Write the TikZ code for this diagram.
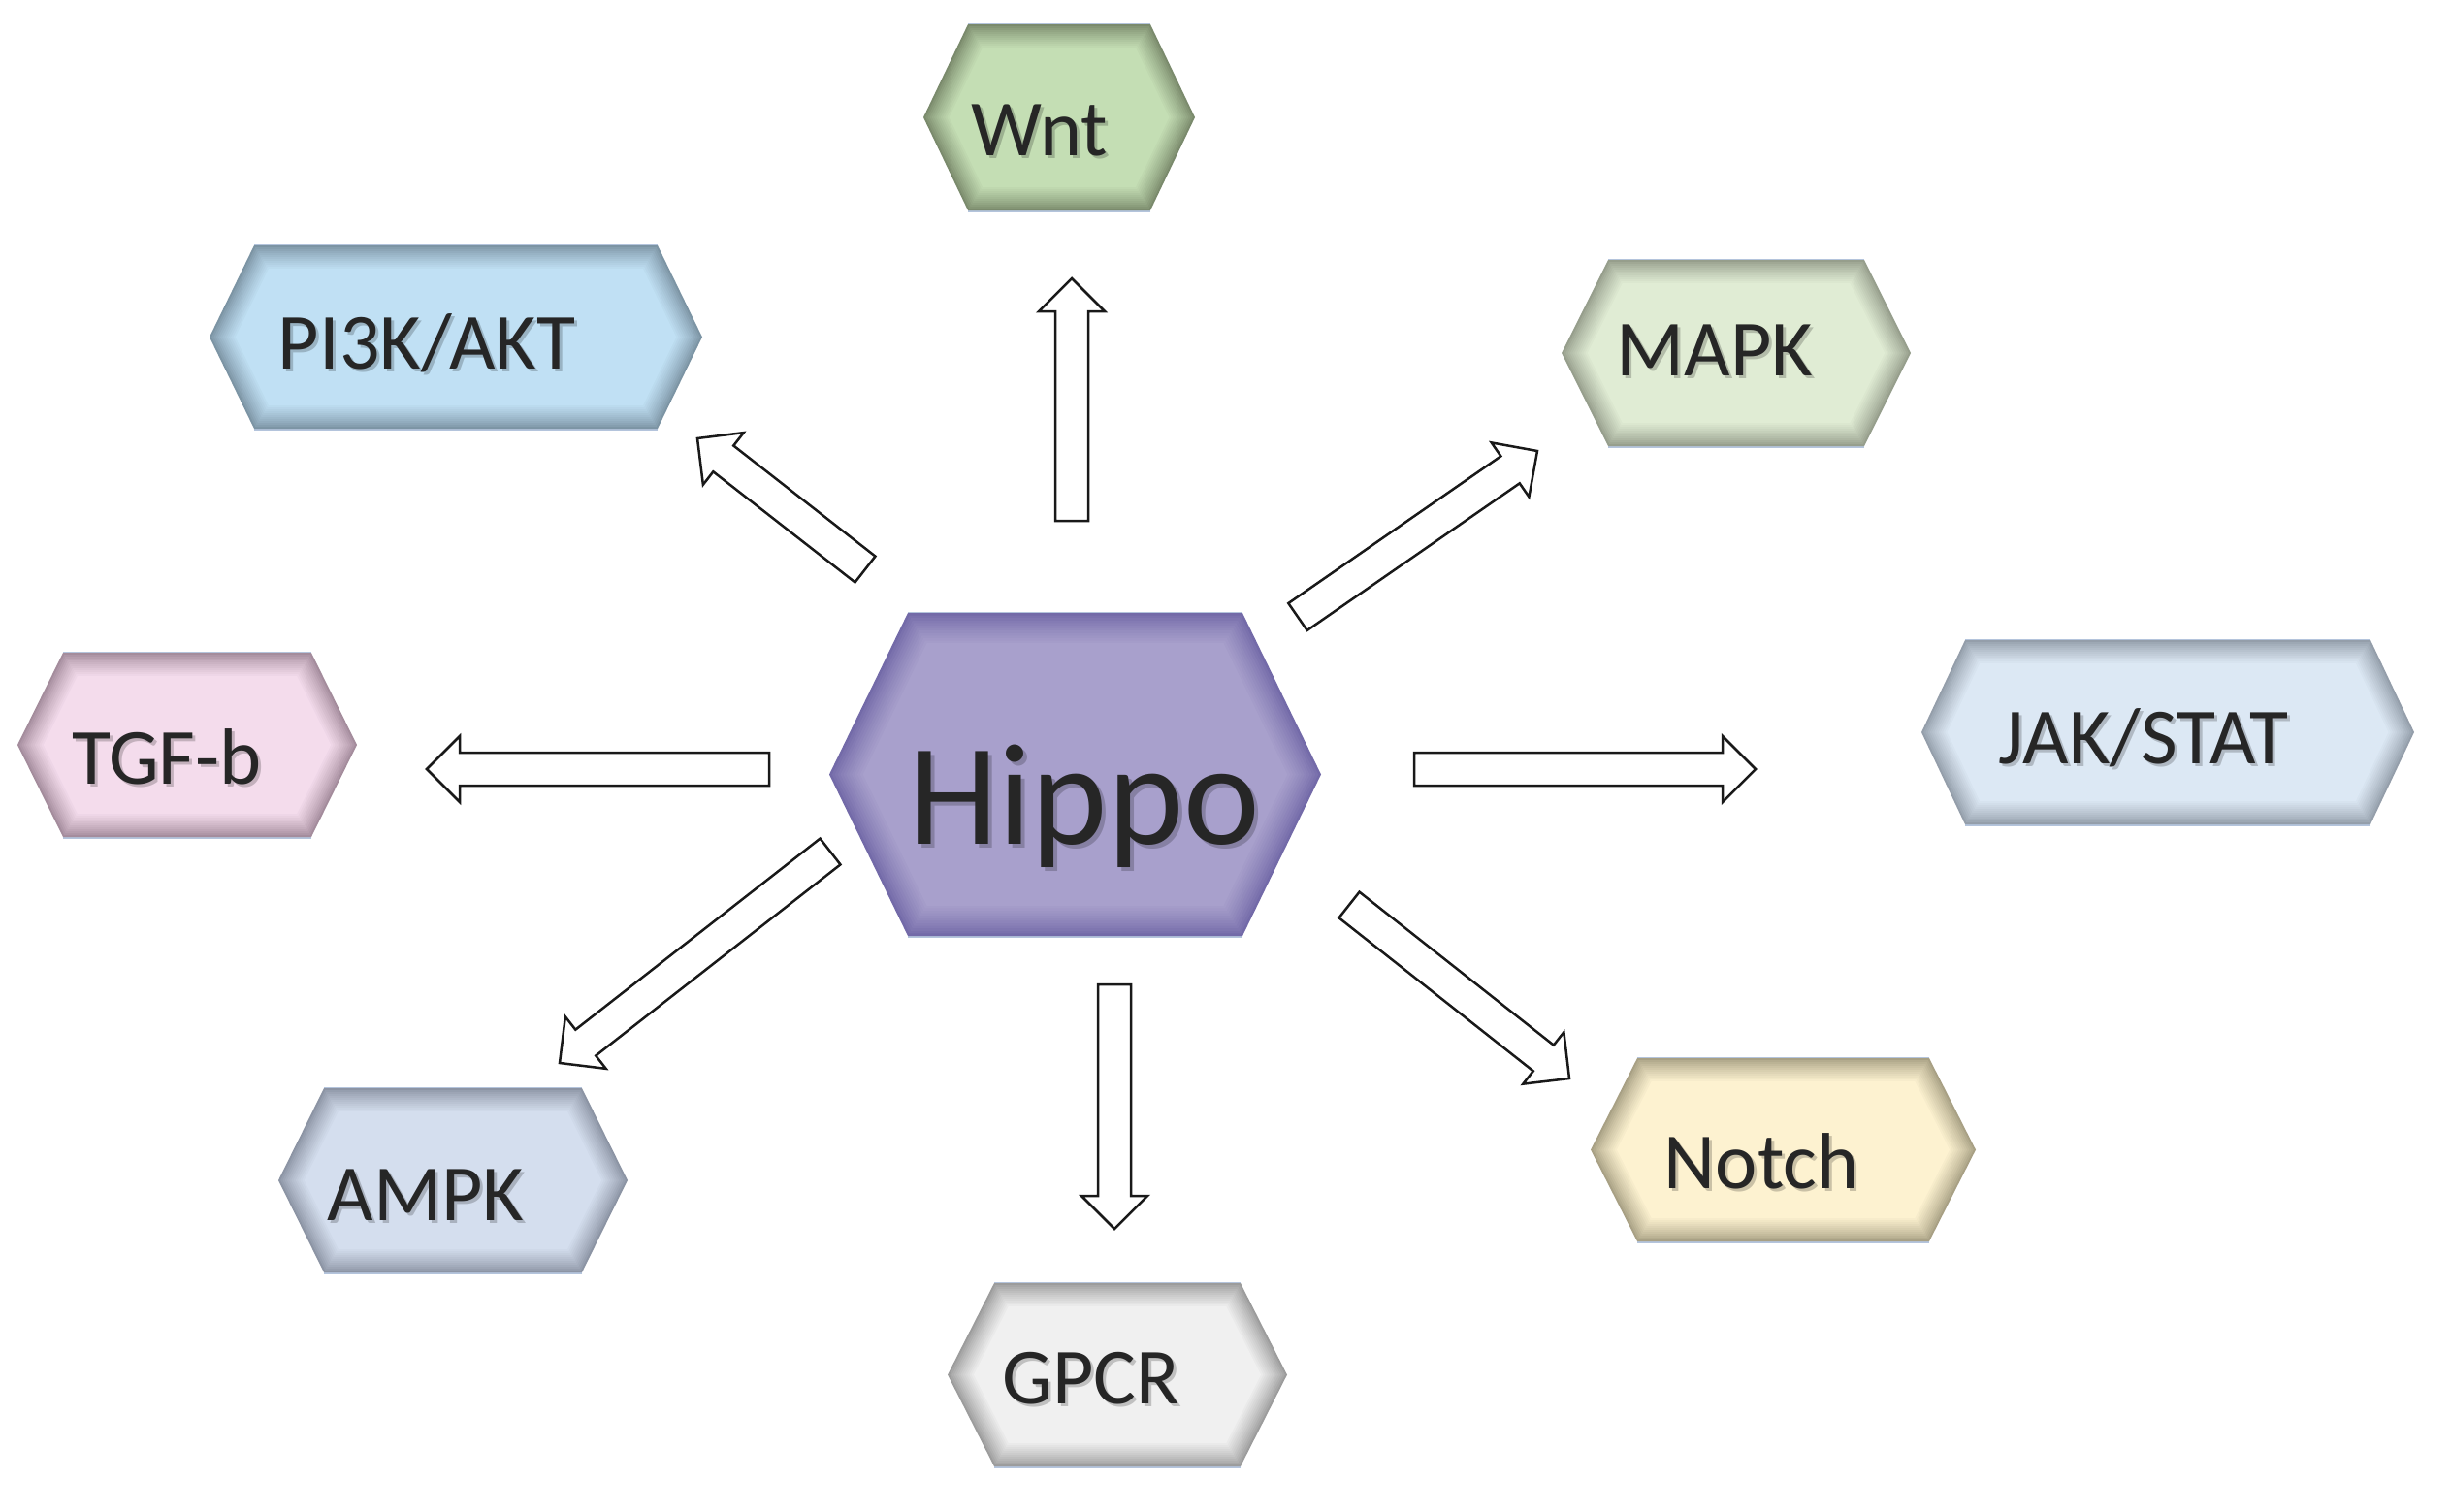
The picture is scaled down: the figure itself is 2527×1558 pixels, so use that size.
\documentclass[tikz,border=0pt]{standalone}
\usepackage{fontspec}
\setmainfont{Carlito}
\usetikzlibrary{calc}
\definecolor{txt}{HTML}{262626}
\definecolor{hipE}{HTML}{736AA8}\definecolor{hipC}{HTML}{A8A0CC}
\definecolor{pikE}{HTML}{7C94A4}\definecolor{pikC}{HTML}{C0E0F4}
\definecolor{tgfE}{HTML}{A48C9C}\definecolor{tgfC}{HTML}{F4DCEC}
\definecolor{jakE}{HTML}{949EAA}\definecolor{jakC}{HTML}{DCE8F4}
\definecolor{wntE}{HTML}{7A8A6C}\definecolor{wntC}{HTML}{C4DEB4}
\definecolor{mapE}{HTML}{969E8C}\definecolor{mapC}{HTML}{E0ECD4}
\definecolor{ampE}{HTML}{8C94A4}\definecolor{ampC}{HTML}{D4DEEE}
\definecolor{gpcE}{HTML}{9C9C9C}\definecolor{gpcC}{HTML}{F0F0F0}
\definecolor{notE}{HTML}{A8A084}\definecolor{notC}{HTML}{FDF2D0}
\definecolor{rim}{HTML}{B4C4DC}
% #1 cx, #2 cy, #3 half width, #4 half height, #5 slant, #6 edge, #7 centre, #8 glow step
\newcommand\hexa[8]{%
  \begin{scope}[shift={(#1,#2)}]
    \pgfmathsetmacro\hm{#5/#4}
    \pgfmathsetmacro\hq{sqrt(1+\hm*\hm)}
    \draw[rim,line width=3pt] (-#3+#5,-#4) -- (#3-#5,-#4) (#3-#5,#4) -- (-#3+#5,#4);
    \foreach \k in {0,...,12}{
      \pgfmathsetmacro\dd{\k*#8}
      \pgfmathsetmacro\Wp{#3-\dd*\hq}
      \pgfmathsetmacro\Hp{#4-\dd}
      \pgfmathsetmacro\Cx{\Wp-\hm*\Hp}
      \pgfmathtruncatemacro\pc{100*(\k/12)^0.8}
      \fill[#7!\pc!#6] (-\Wp,0) -- (-\Cx,-\Hp) -- (\Cx,-\Hp) -- (\Wp,0) -- (\Cx,\Hp) -- (-\Cx,\Hp) -- cycle;
    }
  \end{scope}}
% block arrow from #1 (tail) to #2 (tip)
\newcommand\blockarrow[2]{%
  \draw[barrow]
    ($(#1)!17pt!90:(#2)$) --
    ($($(#2)!34pt!(#1)$)!17pt!-90:(#1)$) --
    ($($(#2)!34pt!(#1)$)!34pt!-90:(#1)$) --
    (#2) --
    ($($(#2)!34pt!(#1)$)!34pt!90:(#1)$) --
    ($($(#2)!34pt!(#1)$)!17pt!90:(#1)$) --
    ($(#1)!17pt!-90:(#2)$) -- cycle;}
\tikzset{
  barrow/.style={draw=black!90,fill=white,line width=2.5pt,line join=miter},
  lbl/.style={inner sep=0pt,anchor=base,text=txt,font=\fontsize{82}{90}\selectfont},
  big/.style={inner sep=0pt,anchor=base,text=txt,font=\fontsize{149}{160}\selectfont},
  shd/.style={text=black,opacity=0.2},
}
\begin{document}
\begin{tikzpicture}[x=1pt,y=-1pt]
\useasboundingbox[fill=white] (0,0) rectangle (2527,1558);
% hexagons
\hexa{1108.5}{798.5}{253.5}{166.5}{81}{hipE}{hipC}{2.6}
\hexa{470}{347.5}{254}{94.5}{46}{pikE}{pikC}{2}
\hexa{193}{768}{175}{95}{47}{tgfE}{tgfC}{2}
\hexa{2235}{755}{254}{95}{45}{jakE}{jakC}{2}
\hexa{1092}{121}{140}{96}{46}{wntE}{wntC}{2}
\hexa{1790}{364}{180}{96}{48}{mapE}{mapC}{2}
\hexa{467}{1217}{180}{95}{47}{ampE}{ampC}{2}
\hexa{1152}{1417.5}{175}{94.5}{48}{gpcE}{gpcC}{2}
\hexa{1838.5}{1185.5}{198.5}{94.5}{48}{notE}{notC}{2}
% labels (with soft shadows)
\node[big,shd] (hippo-s) at (1122,874) {Hippo};
\node[big] (hippo) at (1118,870) {Hippo};
\foreach \nm/\tx/\x/\y in {pik/{PI3K/AKT}/440/380, tgf/{TGF-b}/172/808, jak/{JAK/STAT}/2210/787,
  wnt/{Wnt}/1072/160, mapk/{MAPK}/1768/387, ampk/{AMPK}/439/1258, gpcr/{GPCR}/1125/1447, notch/{Notch}/1816/1225}{
  \node[lbl,shd] (\nm-s) at (\x+3,\y+3) {\tx};
  \node[lbl] (\nm) at (\x,\y) {\tx};
}
% arrows
\coordinate (tWnt) at (1105,537);  \coordinate (hWnt) at (1105,287);
\coordinate (tPik) at (892,587);   \coordinate (hPik) at (719,452);
\coordinate (tMap) at (1338,636);  \coordinate (hMap) at (1585,465);
\coordinate (tTgf) at (793,793);   \coordinate (hTgf) at (440,793);
\coordinate (tJak) at (1458,793);  \coordinate (hJak) at (1810,793);
\coordinate (tAmp) at (856,878);   \coordinate (hAmp) at (577,1096);
\coordinate (tGpc) at (1149,1015); \coordinate (hGpc) at (1149,1267);
\coordinate (tNot) at (1391,933);  \coordinate (hNot) at (1618,1112);
\blockarrow{tWnt}{hWnt}
\blockarrow{tPik}{hPik}
\blockarrow{tMap}{hMap}
\blockarrow{tTgf}{hTgf}
\blockarrow{tJak}{hJak}
\blockarrow{tAmp}{hAmp}
\blockarrow{tGpc}{hGpc}
\blockarrow{tNot}{hNot}
\end{tikzpicture}
\end{document}
